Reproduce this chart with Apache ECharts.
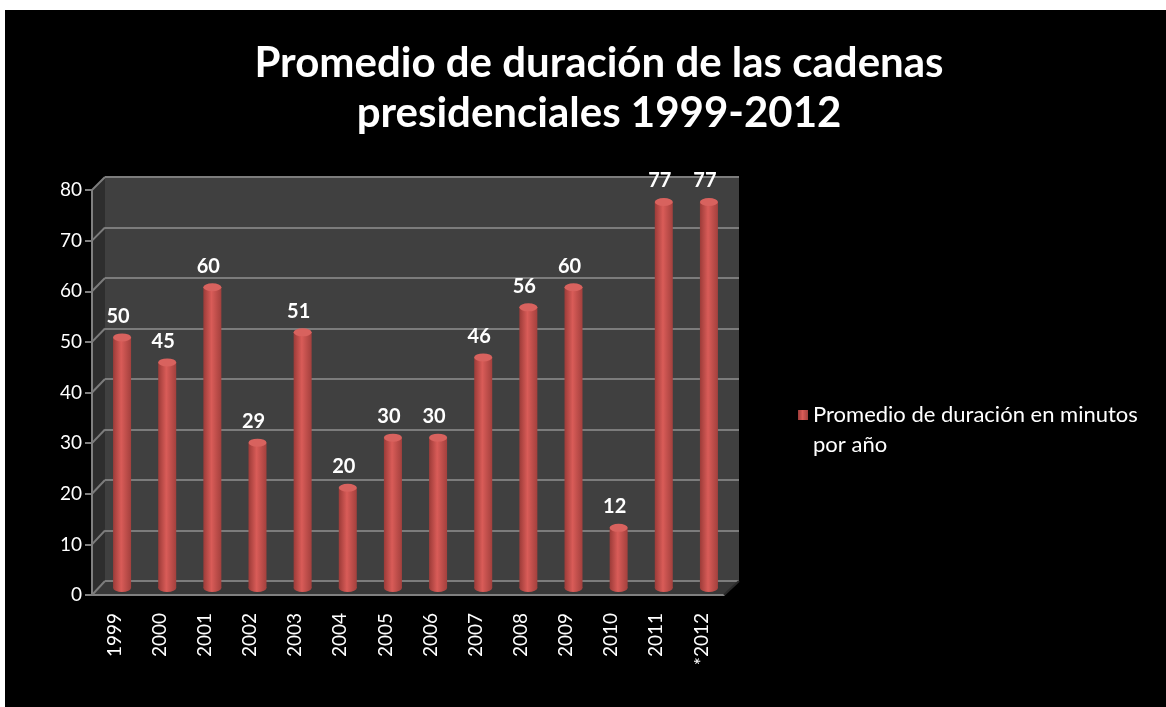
<!DOCTYPE html>
<html>
<head>
<meta charset="utf-8">
<script src="https://cdn.jsdelivr.net/npm/echarts@6/dist/echarts.min.js"></script>
<style>
  html, body { margin: 0; padding: 0; background: #fff; }
  #chart { width: 1166px; height: 707px; }
</style>
</head>
<body>
<div id="chart"></div>
<script>
window.addEventListener("load", () => {
    // datos
    const years = ['1999', '2000', '2001', '2002', '2003', '2004', '2005', '2006', '2007', '2008', '2009', '2010', '2011', '*2012'];
    const minutes = [50, 45, 60, 29, 51, 20, 30, 30, 46, 56, 60, 12, 77, 77];
    const yMin = 0, yMax = 80, yStep = 10;
    const seriesName = 'Promedio de duración en minutos por año';

    const FONT = 'Lato, "Open Sans", sans-serif';
    const GRAY = '#808080';

    // cilindro
    const barColor = new echarts.graphic.LinearGradient(0, 0, 1, 0, [
        { offset: 0, color: '#9c3b38' },
        { offset: 0.45, color: '#d95c58' },
        { offset: 1, color: '#a3403d' }
    ]);

    const chart = echarts.init(document.getElementById("chart"));
    chart.setOption({
        backgroundColor: '#fff',
        animation: false,
        title: {
            text: 'Promedio de duración de las cadenas\npresidenciales 1999-2012',
            left: 594,
            top: 33,
            textAlign: 'center',
            textStyle: { color: '#fff', fontSize: 42, fontWeight: 'bold', fontFamily: FONT, lineHeight: 50 }
        },
        legend: {
            data: [seriesName],
            left: 793,
            top: 395,
            orient: 'vertical',
            // cuadrado arriba para alinear con la primera línea
            icon: 'path://M0,0h10v10h-10z M0,40h0.001z',
            itemWidth: 10,
            itemHeight: 40,
            formatter: () => 'Promedio de duración en minutos\npor año',
            textStyle: { color: '#fff', fontSize: 22, fontFamily: FONT, lineHeight: 30 }
        },
        grid: [
            // pared del fondo
            { left: 105, top: 177, width: 634, height: 404, show: true, backgroundColor: '#404040', borderWidth: 0 },
            // ejes del frente
            { left: 92, top: 190, width: 632, height: 405 },
            // plano de las barras
            { left: 99.5, top: 187, width: 632, height: 401 }
        ],
        xAxis: [
            { gridIndex: 0, type: 'category', data: years, show: false },
            {
                gridIndex: 1, type: 'category', data: years,
                axisLine: { lineStyle: { color: GRAY, width: 2 } },
                axisTick: { length: 8, lineStyle: { color: GRAY, width: 2 } },
                axisLabel: { rotate: 90, color: '#fff', fontSize: 19, fontFamily: FONT, margin: 18 }
            },
            { gridIndex: 2, type: 'category', data: years, show: false }
        ],
        yAxis: [
            {
                gridIndex: 0, type: 'value', min: yMin, max: yMax, interval: yStep,
                axisLabel: { show: false }, axisLine: { show: false }, axisTick: { show: false },
                splitLine: { lineStyle: { color: '#7c7c7c', width: 2 } }
            },
            {
                gridIndex: 1, type: 'value', min: yMin, max: yMax, interval: yStep,
                axisLine: { show: true, lineStyle: { color: GRAY, width: 2 } },
                axisTick: { show: true, length: 7, lineStyle: { color: GRAY, width: 2 } },
                axisLabel: { color: '#fff', fontSize: 19, fontFamily: FONT, margin: 10 },
                splitLine: { show: false }
            },
            { gridIndex: 2, type: 'value', min: yMin, max: yMax, show: false, splitLine: { show: false } }
        ],
        series: [
            {
                name: seriesName,
                type: 'bar',
                xAxisIndex: 2, yAxisIndex: 2,
                data: minutes,
                barWidth: 18,
                itemStyle: { color: barColor },
                label: {
                    show: true, position: 'top', distance: 11, offset: [-4, 0],
                    color: '#fff', fontSize: 20, fontWeight: 'bold', fontFamily: FONT
                },
                z: 3
            },
            {
                // tapa superior
                type: 'pictorialBar',
                xAxisIndex: 2, yAxisIndex: 2,
                data: minutes,
                symbol: 'circle',
                symbolSize: [18, 8],
                symbolPosition: 'end',
                symbolOffset: [0, '-50%'],
                itemStyle: { color: '#d8625e' },
                z: 4
            },
            {
                // base
                type: 'pictorialBar',
                xAxisIndex: 2, yAxisIndex: 2,
                data: minutes,
                symbol: 'circle',
                symbolSize: [18, 8],
                symbolPosition: 'start',
                symbolOffset: [0, '50%'],
                itemStyle: { color: barColor },
                z: 3
            }
        ]
    });

    // marco 3D: pared lateral, piso y uniones de las marcas
    const fx = 92, bx = 105;
    const front = v => chart.convertToPixel({ yAxisIndex: 1 }, v);
    const back = v => chart.convertToPixel({ yAxisIndex: 0 }, v);
    const graphics = [
        { type: 'rect', shape: { x: 5, y: 10, width: 1161, height: 697 }, style: { fill: '#000' }, z: -10 },
        {
            type: 'polygon', z: -5,
            shape: { points: [[fx, front(yMax)], [bx, back(yMax)], [bx, back(yMin)], [fx, front(yMin)]] },
            style: { fill: '#2e2e2e' }
        },
        {
            type: 'polygon', z: -5,
            shape: { points: [[fx, front(yMin)], [bx, back(yMin)], [739, back(yMin)], [724, front(yMin)]] },
            style: { fill: '#383838' }
        },
        {
            type: 'line', z: 1,
            shape: { x1: 724, y1: front(yMin), x2: 739, y2: back(yMin) },
            style: { stroke: '#2a2a2a', lineWidth: 2 }
        }
    ];
    for (let v = yMin; v <= yMax; v += yStep) {
        graphics.push({
            type: 'line', z: 1,
            shape: { x1: fx, y1: front(v), x2: bx, y2: back(v) },
            style: { stroke: '#7c7c7c', lineWidth: 2 }
        });
    }
    chart.setOption({ graphic: graphics });
});
</script>
</body>
</html>
